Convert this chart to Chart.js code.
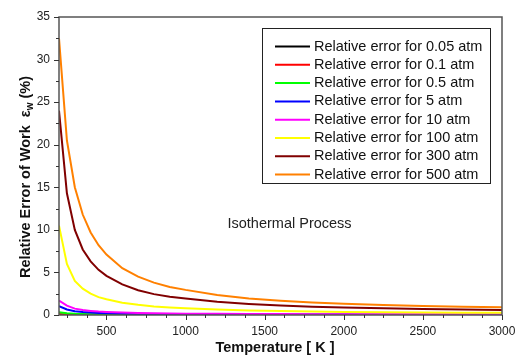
<!DOCTYPE html>
<html>
<head>
<meta charset="utf-8">
<script src="https://cdn.jsdelivr.net/npm/chart.js@4/dist/chart.umd.min.js"></script>
<style>
  body { margin: 0; background: #fff; }
  #wrap { width: 515px; height: 358px; }
</style>
</head>
<body>
<div id="wrap"><canvas id="myChart" width="515" height="358"></canvas></div>
<script>
const temps = [200, 250, 300, 350, 400, 450, 500, 600, 700, 800, 900, 1000, 1200, 1400, 1600, 1800, 2000, 2250, 2500, 2750, 3000];

// relative error of work (%) for each pressure
const err005 = [0.05, 0.035, 0.028, 0.022, 0.018, 0.015, 0.013, 0.011, 0.009, 0.008, 0.007, 0.006, 0.005, 0.005, 0.004, 0.004, 0.004, 0.003, 0.003, 0.003, 0.003];
const err01  = [0.1, 0.07, 0.05, 0.04, 0.035, 0.03, 0.026, 0.021, 0.018, 0.016, 0.014, 0.013, 0.011, 0.01, 0.009, 0.008, 0.007, 0.007, 0.006, 0.006, 0.006];
const err05  = [0.32, 0.2, 0.14, 0.11, 0.09, 0.075, 0.065, 0.052, 0.045, 0.04, 0.035, 0.032, 0.027, 0.023, 0.02, 0.018, 0.016, 0.015, 0.014, 0.013, 0.012];
const err5   = [1.05, 0.65, 0.45, 0.35, 0.28, 0.23, 0.2, 0.16, 0.13, 0.11, 0.1, 0.09, 0.075, 0.065, 0.058, 0.052, 0.048, 0.044, 0.04, 0.038, 0.035];
const err10  = [1.7, 1.1, 0.75, 0.58, 0.48, 0.4, 0.35, 0.28, 0.23, 0.2, 0.18, 0.16, 0.14, 0.12, 0.11, 0.1, 0.09, 0.085, 0.08, 0.075, 0.07];
const err100 = [10.5, 6.0, 4.0, 3.1, 2.5, 2.1, 1.85, 1.45, 1.2, 1.0, 0.88, 0.8, 0.64, 0.54, 0.46, 0.4, 0.36, 0.32, 0.29, 0.27, 0.25];
const err300 = [24.0, 14.3, 10.0, 7.7, 6.3, 5.3, 4.6, 3.6, 2.9, 2.45, 2.15, 1.95, 1.55, 1.3, 1.12, 0.98, 0.88, 0.78, 0.7, 0.64, 0.6];
const err500 = [32.5, 20.5, 15.0, 11.8, 9.7, 8.2, 7.1, 5.5, 4.5, 3.8, 3.3, 2.95, 2.35, 1.95, 1.68, 1.48, 1.32, 1.18, 1.07, 0.98, 0.9];

const labels = ['Relative error for 0.05 atm', 'Relative error for 0.1 atm', 'Relative error for 0.5 atm',
  'Relative error for 5 atm', 'Relative error for 10 atm', 'Relative error for 100 atm',
  'Relative error for 300 atm', 'Relative error for 500 atm'];
const colors = ['#000000', '#ff0000', '#00ff00', '#0000ff', '#ff00ff', '#ffff00', '#800000', '#ff8000'];
const series = [err005, err01, err05, err5, err10, err100, err300, err500];

const xTicks = [500, 1000, 1500, 2000, 2500, 3000];
const yTicks = [0, 5, 10, 15, 20, 25, 30, 35];

const FONT = "'Liberation Sans', Arial, sans-serif";

// box, minor ticks, legend, axis titles and note drawn by hand
const framePlugin = {
  id: 'frame',
  afterDatasetsDraw(chart) {
    const ctx = chart.ctx;
    const a = chart.chartArea;
    const xs = chart.scales.x, ys = chart.scales.y;
    ctx.save();
    ctx.strokeStyle = '#555';
    ctx.lineWidth = 1.5;
    ctx.strokeRect(a.left, a.top, a.right - a.left, a.bottom - a.top);

    ctx.lineWidth = 1;
    ctx.strokeStyle = '#333';
    ctx.beginPath();
    for (let t = 250; t <= 3000; t += 125) {
      const px = Math.round(xs.getPixelForValue(t)) + 0.5;
      const len = t % 500 === 0 ? 5 : 3;
      ctx.moveTo(px, a.bottom);
      ctx.lineTo(px, a.bottom + len);
    }
    for (let v = 0; v <= 35; v += 2.5) {
      const py = Math.round(ys.getPixelForValue(v)) + 0.5;
      const len = v % 5 === 0 ? 5 : 3;
      ctx.moveTo(a.left, py);
      ctx.lineTo(a.left - len, py);
    }
    ctx.stroke();

    // legend box
    ctx.fillStyle = '#fff';
    ctx.fillRect(262.5, 28.5, 228, 155);
    ctx.strokeStyle = '#222';
    ctx.lineWidth = 1;
    ctx.strokeRect(262.5, 28.5, 228, 155);
    ctx.font = '14.5px ' + FONT;
    ctx.textBaseline = 'middle';
    ctx.textAlign = 'left';
    chart.data.datasets.forEach((ds, i) => {
      const y = 46.5 + i * 18.3;
      ctx.strokeStyle = ds.borderColor;
      ctx.lineWidth = 2;
      ctx.beginPath();
      ctx.moveTo(275, y);
      ctx.lineTo(310, y);
      ctx.stroke();
      ctx.fillStyle = '#111';
      ctx.fillText(ds.label, 314, y);
    });

    // note inside the plot
    ctx.fillStyle = '#222';
    ctx.font = '14.5px ' + FONT;
    ctx.fillText('Isothermal Process', xs.getPixelForValue(1265), ys.getPixelForValue(10.7));

    // x title
    ctx.font = 'bold 14.5px ' + FONT;
    ctx.textAlign = 'center';
    ctx.fillStyle = '#111';
    ctx.fillText('Temperature [ K ]', 275, 348);

    // y title with subscript
    const big = 'bold 14.5px ' + FONT, small = 'bold 10px ' + FONT;
    const p1 = 'Relative Error of Work  \u03b5', p2 = 'w', p3 = ' (%)';
    ctx.textAlign = 'left';
    ctx.font = big;
    const w1 = ctx.measureText(p1).width, w3 = ctx.measureText(p3).width;
    ctx.font = small;
    const w2 = ctx.measureText(p2).width;
    const total = w1 + w2 + w3;
    ctx.translate(30, 177);
    ctx.rotate(-Math.PI / 2);
    ctx.textBaseline = 'alphabetic';
    let x0 = -total / 2;
    ctx.font = big;
    ctx.fillText(p1, x0, 0);
    ctx.font = small;
    ctx.fillText(p2, x0 + w1, 3);
    ctx.font = big;
    ctx.fillText(p3, x0 + w1 + w2, 0);
    ctx.restore();
  }
};

const ctx = document.getElementById('myChart').getContext('2d');
const myChart = new Chart(ctx, {
  type: 'line',
  data: {
    datasets: series.map((s, i) => ({
      label: labels[i],
      data: s.map((v, j) => ({ x: temps[j], y: v })),
      borderColor: colors[i],
      backgroundColor: colors[i],
      borderWidth: 2,
      pointRadius: 0,
      tension: 0,
      fill: false,
      order: -i
    }))
  },
  options: {
    responsive: false,
    animation: false,
    layout: { padding: { top: 17, right: 13, left: 0, bottom: 0 } },
    plugins: { legend: { display: false }, tooltip: { enabled: false } },
    scales: {
      x: {
        type: 'linear',
        min: 200,
        max: 3000,
        afterBuildTicks: (s) => { s.ticks = xTicks.map(v => ({ value: v })); },
        afterFit: (s) => { s.height = 43; s.paddingRight = 0; s.paddingLeft = 0; },
        grid: { display: false, drawTicks: true, tickLength: 5 },
        border: { display: false },
        ticks: { padding: 4, color: '#222', font: { family: FONT, size: 12 }, maxRotation: 0,
          callback: (v) => String(v) }
      },
      y: {
        min: 0,
        max: 35,
        afterBuildTicks: (s) => { s.ticks = yTicks.map(v => ({ value: v })); },
        afterFit: (s) => { s.width = 59; s.paddingTop = 0; s.paddingBottom = 0; },
        grid: { display: false, drawTicks: true, tickLength: 5 },
        border: { display: false },
        ticks: { padding: 4, color: '#222', font: { family: FONT, size: 12 },
          callback: (v) => String(v) }
      }
    }
  },
  plugins: [framePlugin]
});
</script>
</body>
</html>
